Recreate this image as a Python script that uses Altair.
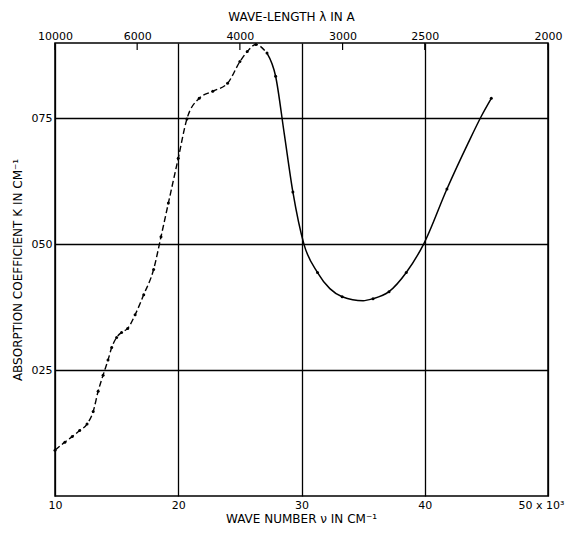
import altair as alt
import pandas as pd

# Dashed (dotted) portion of the curve: wave number (x10^3 cm^-1), absorption coefficient
dash_nu = [10.0, 10.8, 11.4, 12.0, 12.6, 13.1, 13.5, 13.9, 14.3, 14.6, 15.0, 15.4, 15.9,
           16.5, 17.2, 18.0, 18.6, 19.2, 20.0, 20.7, 21.7, 22.8, 24.0, 25.0, 25.6, 26.3, 27.2]
dash_k = [0.0091, 0.0107, 0.0118, 0.0130, 0.0143, 0.0168, 0.0208, 0.0240, 0.0270, 0.0295,
          0.0315, 0.0325, 0.0333, 0.0360, 0.0400, 0.0450, 0.0515, 0.0582, 0.0671, 0.0749,
          0.0790, 0.0804, 0.0820, 0.0863, 0.0883, 0.0897, 0.0880]

# Solid portion of the curve
solid_nu = [27.2, 27.9, 28.6, 29.3, 30.2, 31.3, 32.3, 33.3, 35.0, 35.8, 37.1, 38.5,
            39.9, 41.8, 43.5, 44.6, 45.4]
solid_k = [0.0880, 0.0834, 0.0720, 0.0604, 0.0500, 0.0444, 0.0412, 0.0396, 0.0388, 0.0392,
           0.0406, 0.0444, 0.0500, 0.0610, 0.0700, 0.0755, 0.0790]

# Measured points (dots)
dot_nu = dash_nu + [27.9, 29.3, 31.3, 33.3, 35.8, 37.1, 38.5, 41.8, 45.4]
dot_k = dash_k + [0.0834, 0.0604, 0.0444, 0.0396, 0.0392, 0.0406, 0.0444, 0.0610, 0.0790]

x_ticks = [10, 20, 30, 40, 50]
x_tick_labels = ["10", "20", "30", "40", "50 x 10³"]
y_ticks = [0.025, 0.05, 0.075]
y_tick_labels = ["025", "050", "075"]
wavelengths = [10000, 6000, 4000, 3000, 2500, 2000]

FONT = "DejaVu Sans"

dash_df = pd.DataFrame({"nu": dash_nu, "k": dash_k})
solid_df = pd.DataFrame({"nu": solid_nu, "k": solid_k})
dot_df = pd.DataFrame({"nu": dot_nu, "k": dot_k})
top_df = pd.DataFrame({"wl": wavelengths, "pos": [1e5 / w for w in wavelengths]})

xs = alt.Scale(domain=[10, 50], nice=False, zero=False)
ys = alt.Scale(domain=[0, 0.09], nice=False, zero=False)

x_expr = " : ".join(f"abs(datum.value - {v}) < 1e-6 ? '{l}'" for v, l in zip(x_ticks, x_tick_labels)) + " : ''"
y_expr = " : ".join(f"abs(datum.value - {v}) < 1e-7 ? '{l}'" for v, l in zip(y_ticks, y_tick_labels)) + " : ''"

x_axis = alt.Axis(values=x_ticks, labelExpr=x_expr, grid=True, gridColor="black",
                  gridWidth=1.3, gridOpacity=1, tickSize=0, domain=False,
                  labelFlush=False,
                  labelOffset={"condition": {"test": "datum.value == 50", "value": -7}, "value": 0},
                  labelPadding=3, labelFontSize=11, labelFont=FONT, labelColor="black",
                  title="WAVE NUMBER ν IN CM⁻¹", titleX=246, titleY=22,
                  titleBaseline="middle", titleAnchor="middle", titleFont=FONT,
                  titleFontSize=12, titleFontWeight="normal", titleColor="black")
y_axis = alt.Axis(values=y_ticks, labelExpr=y_expr, grid=True, gridColor="black",
                  gridWidth=1.3, gridOpacity=1, tickSize=0, domain=False,
                  labelPadding=3, labelFontSize=11, labelFont=FONT, labelColor="black",
                  title="ABSORPTION COEFFICIENT K IN CM⁻¹", titlePadding=7, titleFont=FONT,
                  titleFontSize=12, titleFontWeight="normal", titleColor="black")

dash = alt.Chart(dash_df).mark_line(color="black", strokeWidth=1.4, strokeDash=[6, 3],
                                    interpolate="monotone").encode(
    x=alt.X("nu:Q", scale=xs, axis=x_axis),
    y=alt.Y("k:Q", scale=ys, axis=y_axis),
)
solid = alt.Chart(solid_df).mark_line(color="black", strokeWidth=1.5,
                                      interpolate="monotone").encode(
    x=alt.X("nu:Q", scale=xs, axis=x_axis),
    y=alt.Y("k:Q", scale=ys, axis=y_axis),
)
dots = alt.Chart(dot_df).mark_circle(color="black", size=9, opacity=1).encode(
    x=alt.X("nu:Q", scale=xs, axis=x_axis),
    y=alt.Y("k:Q", scale=ys, axis=y_axis),
)

main = alt.layer(dash, solid, dots)

top_axis = alt.Axis(orient="top", values=[1e5 / w for w in wavelengths],
                    labelExpr="format(round(100000 / datum.value), 'd')",
                    grid=False, tickSize=0, domain=False, labelPadding=2, labelFlush=False,
                    labelFontSize=11, labelFont=FONT, labelColor="black",
                    title="WAVE-LENGTH λ IN A", titleX=236, titleY=-27,
                    titleBaseline="middle", titleAnchor="middle", titleFont=FONT,
                    titleFontSize=12, titleFontWeight="normal", titleColor="black")

top_ticks = alt.Chart(top_df).mark_rule(color="black", strokeWidth=1.2).encode(
    x=alt.X("pos:Q", scale=xs, axis=top_axis),
    y=alt.value(0),
    y2=alt.value(7),
)

chart = alt.layer(main, top_ticks).resolve_axis(x="independent").properties(
    width=493,
    height=453,
    autosize=alt.AutoSizeParams(type="none"),
    padding={"left": 47, "top": 35, "right": 17, "bottom": 29},
    background="white",
).configure_view(stroke="black", strokeWidth=1.5)

chart.save("out.html", embed_options={"renderer": "svg", "actions": False})
